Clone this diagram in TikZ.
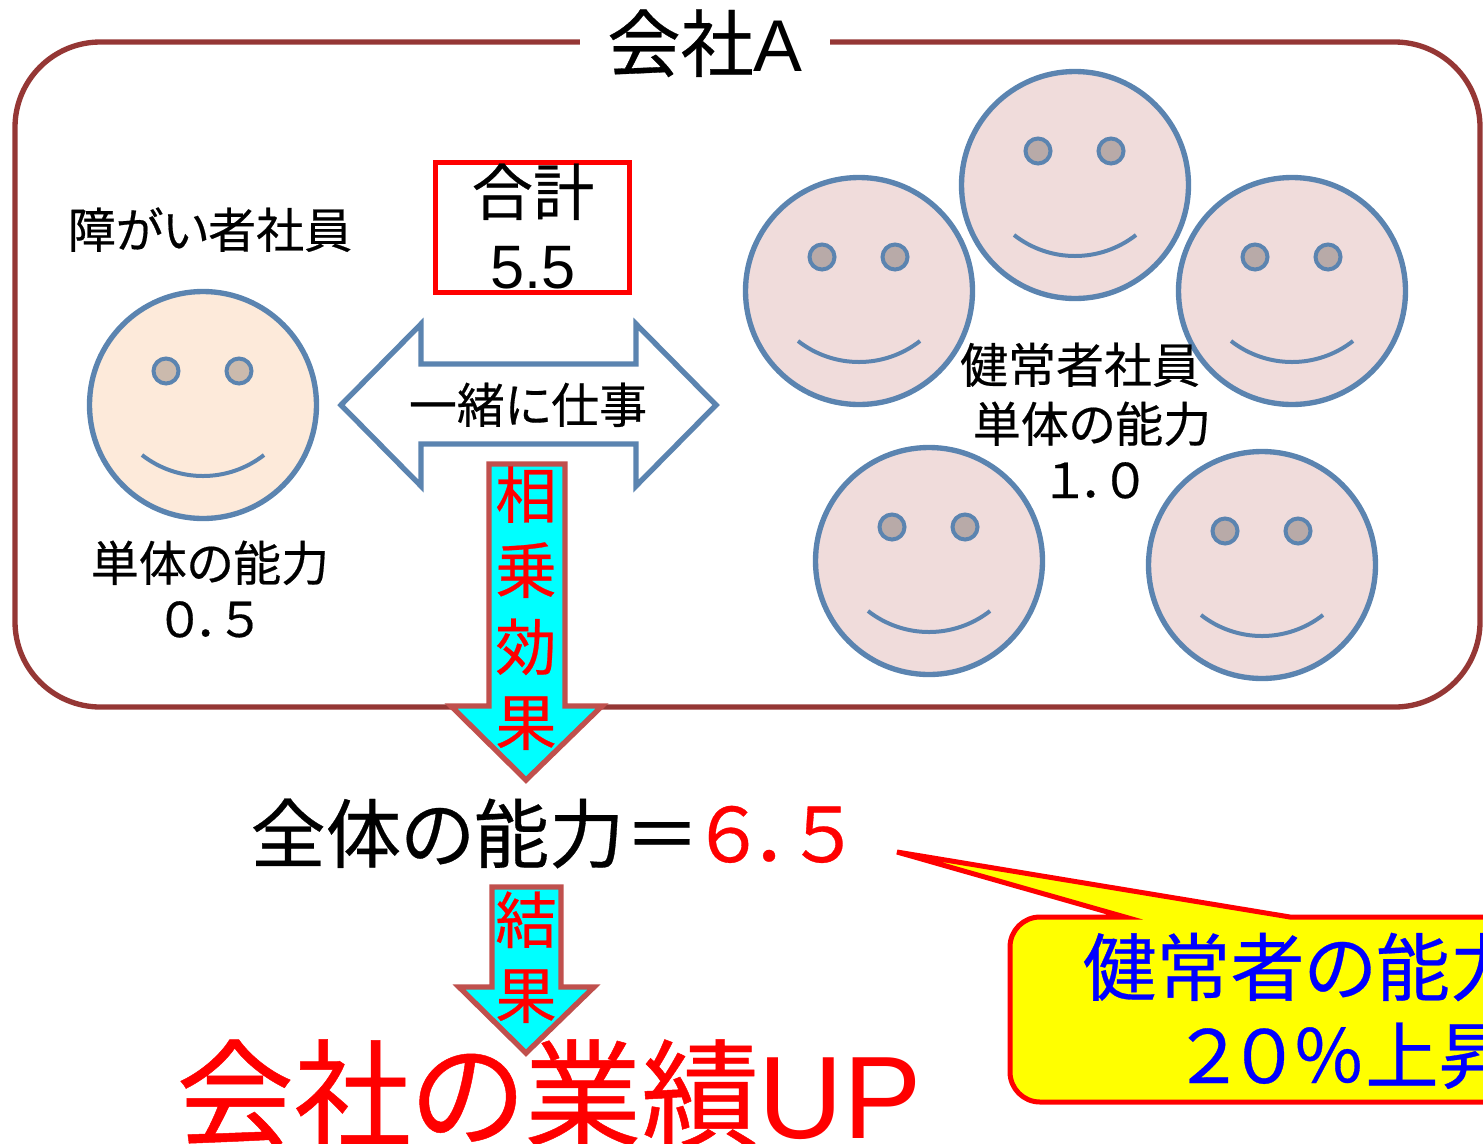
\documentclass[tikz,border=0pt]{standalone}
\usepackage{fontspec}
\setmainfont{Noto Sans CJK JP}[RawFeature=+palt,FakeBold=0.4]
\newfontfamily\latinfont{Liberation Sans}
\definecolor{framered}{RGB}{149,55,53}
\definecolor{faceblue}{RGB}{91,132,176}
\definecolor{facepeach}{RGB}{253,234,218}
\definecolor{facepink}{RGB}{240,220,219}
\definecolor{eyepeach}{RGB}{203,186,173}
\definecolor{eyepink}{RGB}{184,170,168}
\definecolor{arrowred}{RGB}{192,80,77}
\definecolor{purecyan}{RGB}{0,255,255}
\definecolor{pureyellow}{RGB}{255,255,0}
\definecolor{purered}{RGB}{255,0,0}
\definecolor{pureblue}{RGB}{0,0,255}
\newcommand{\jpfont}[1]{\fontsize{#1}{#1}\selectfont}
\tikzset{
	every picture/.style={line width=0.75pt},
	lbl/.style={anchor=base,inner sep=0pt},
	lblL/.style={anchor=base west,inner sep=0pt},
	facering/.style={draw=faceblue,line width=4pt},
	downarrow/.style={draw=arrowred,line width=4pt,fill=purecyan,miter limit=10},
}
\newcommand{\smileface}[4]{%
	\draw [facering,fill=#3] (#1,#2) circle [radius=113.5];
	\draw [facering,line width=3pt,fill=#4] (#1-37,#2-34) circle [radius=12.5];
	\draw [facering,line width=3pt,fill=#4] (#1+36,#2-34) circle [radius=12.5];
	\draw [facering,line width=3pt] (#1-61,#2+50) .. controls (#1-25,#2+78) and (#1+25,#2+78) .. (#1+61,#2+50);
}

\begin{document}
\begin{tikzpicture}[x=0.75pt,y=0.75pt,yscale=-1,xscale=1]
	\clip (0,0) rectangle (1483,1143);
	
	%company frame
	\draw [draw=framered,line width=4pt,rounded corners=64pt] (15,42) rectangle (1480,707);
	\draw (705,42) node (frameGap) [fill=white,minimum width=187.5pt,minimum height=37.5pt,inner sep=0pt] {};
	
	%faces
	\smileface{203}{405}{facepeach}{eyepeach}
	\foreach \fx/\fy in {859/291,1075/185,1292/291,929/561,1262/565}{
		\smileface{\fx}{\fy}{facepink}{eyepink}
	}
	
	%total box
	\draw [draw=purered,line width=3.75pt] (435,162) rectangle (629.5,292);
	
	%double arrow
	\draw [draw=faceblue,line width=4pt,fill=white,miter limit=10] (341,405) -- (421,324) -- (421,364) -- (636,364) -- (636,324) -- (716,405) -- (636,486) -- (636,444) -- (421,444) -- (421,486) -- cycle;
	
	%down arrows
	\draw [downarrow] (489,464) -- (565,464) -- (565,706) -- (602,706) -- (526,780) -- (451,706) -- (489,706) -- cycle;
	\draw [downarrow] (492,887) -- (561,887) -- (561,987) -- (594,987) -- (526,1053) -- (459,987) -- (492,987) -- cycle;
	
	%callout
	\draw [draw=purered,line width=3.75pt,fill=pureyellow] (1040,917) -- (1125,917) -- (897,852) -- (1290,917) -- (1500,917) -- (1500,1102) -- (1040,1102) arc [start angle=90,end angle=180,radius=30] -- (1010,947) arc [start angle=180,end angle=270,radius=30] -- cycle;
	
	% Text
	\draw (705,71) node (titleCompany) [lbl,font=\jpfont{55}] {会社{\latinfont A}};
	\draw (210,248) node (lblDisabled) [lbl,font=\jpfont{36}] {障がい者社員};
	\draw (533,215) node (lblTotal) [lbl,font=\jpfont{46}] {合計};
	\draw (533,288) node (lblTotalVal) [lbl,font=\jpfont{46}\latinfont] {5.5};
	\draw (528,423) node (lblTogether) [lbl,font=\jpfont{36}] {一緒に仕事};
	\draw (210,581) node (lblAbilityA) [lbl,font=\jpfont{36}] {単体の能力};
	\draw (210,637) node (lblAbilityAVal) [lbl,font=\jpfont{36}] {０．５};
	\draw (1080,383) node (lblHealthy) [lbl,font=\jpfont{36}] {健常者社員};
	\draw (1092,442) node (lblAbilityB) [lbl,font=\jpfont{36}] {単体の能力};
	\draw (1095,498) node (lblAbilityBVal) [lbl,font=\jpfont{36}] {１．０};
	\foreach \ch/\cy in {相/518,乗/593,効/670,果/745}{
		\draw (526,\cy) node (lblSynergy\cy) [lbl,font=\jpfont{46},text=purered] {\ch};
	}
	\draw (250,862) node (lblOverall) [lblL,font=\jpfont{56.5}] {全体の能力＝\textcolor{purered}{６．５}};
	\foreach \ch/\cy in {結/943,果/1018}{
		\draw (526,\cy) node (lblResult\cy) [lbl,font=\jpfont{46},text=purered] {\ch};
	}
	\draw (176,1138) node (lblGain) [lblL,font=\jpfont{88},text=purered] {会社の業績{\latinfont UP}};
	\draw (1082,995) node (lblCalloutA) [lblL,font=\jpfont{55.5},text=pureblue] {健常者の能力};
	\draw (1180,1083) node (lblCalloutB) [lblL,font=\jpfont{55},text=pureblue] {２０％上昇};
	
\end{tikzpicture}
\end{document}
